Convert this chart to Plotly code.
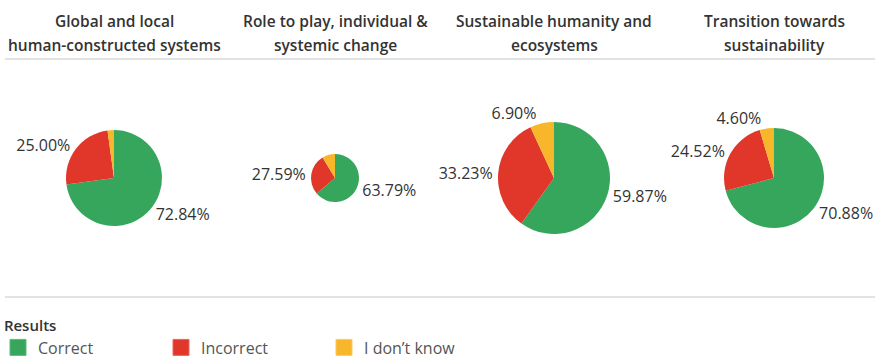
import plotly.graph_objects as go

# ---- data ----
topics = [
    ["Global and local", "human-constructed systems"],
    ["Role to play, individual &", "systemic change"],
    ["Sustainable humanity and", "ecosystems"],
    ["Transition towards", "sustainability"],
]
results = ["Correct", "Incorrect", "I don\u2019t know"]
correct = [72.84, 63.79, 59.87, 70.88]
incorrect = [25.00, 27.59, 33.23, 24.52]
dont_know = [2.16, 8.62, 6.90, 4.60]
show_dont_know_label = [False, False, True, True]

# ---- layout / style ----
W, H = 875, 361
colors = ["#35a65c", "#e0372a", "#f8b72a"]
col_centers = [114, 335, 554, 774]
pie_cy = 178
pie_radius = [48, 24, 56, 50]
title_line_y = [21, 44.5]
FONT = "Open Sans"

fig = go.Figure()
for i, topic in enumerate(topics):
    vals = [correct[i], incorrect[i], dont_know[i]]
    texts = [f"{v:.2f}%" for v in vals]
    if not show_dont_know_label[i]:
        texts[2] = ""
    cx, r = col_centers[i], pie_radius[i]
    fig.add_trace(go.Pie(
        labels=results, values=vals, text=texts,
        textinfo="text", textposition="outside",
        sort=False, direction="clockwise", rotation=0,
        marker=dict(colors=colors, line=dict(width=0)),
        outsidetextfont=dict(family=FONT, size=16, color="#333333"),
        showlegend=False, hoverinfo="label+percent",
        domain=dict(x=[(cx - r) / W, (cx + r) / W],
                    y=[1 - (pie_cy + r) / H, 1 - (pie_cy - r) / H]),
    ))
    for line, ly in zip(topic, title_line_y):
        fig.add_annotation(
            text=line, x=cx / W, y=1 - ly / H, xref="paper", yref="paper",
            xanchor="center", yanchor="middle", showarrow=False,
            font=dict(family=FONT, size=15.5, color="#333333", weight=600),
        )

# legend entries
lighter = ["#5cbb7c", "#e8675d", "#fbcb5f"]
for lab, c, lc in zip(results, colors, lighter):
    fig.add_trace(go.Scatter(
        x=[None], y=[None], mode="markers", name=lab,
        marker=dict(symbol="square", size=16, color=c, line=dict(width=1, color=lc)),
    ))

# separator lines
for yy in [59, 297]:
    fig.add_shape(type="line", xref="paper", yref="paper",
                  x0=5 / W, x1=1, y0=1 - yy / H, y1=1 - yy / H,
                  line=dict(color="#d9d9d9", width=1.5))

fig.update_layout(
    width=W, height=H, margin=dict(l=0, r=0, t=0, b=0, autoexpand=False),
    paper_bgcolor="white", plot_bgcolor="white",
    xaxis=dict(visible=False), yaxis=dict(visible=False),
    font=dict(family=FONT),
    legend=dict(
        orientation="h", x=-2 / W, xanchor="left", y=-4 / H, yanchor="bottom",
        bgcolor="rgba(0,0,0,0)",
        title=dict(text="\u00a0Results", side="top",
                   font=dict(family=FONT, size=15, color="#333333", weight=600)),
        font=dict(family=FONT, size=16, color="#555555"),
        entrywidth=118, itemsizing="trace",
    ),
)

fig.write_html("out.html")
